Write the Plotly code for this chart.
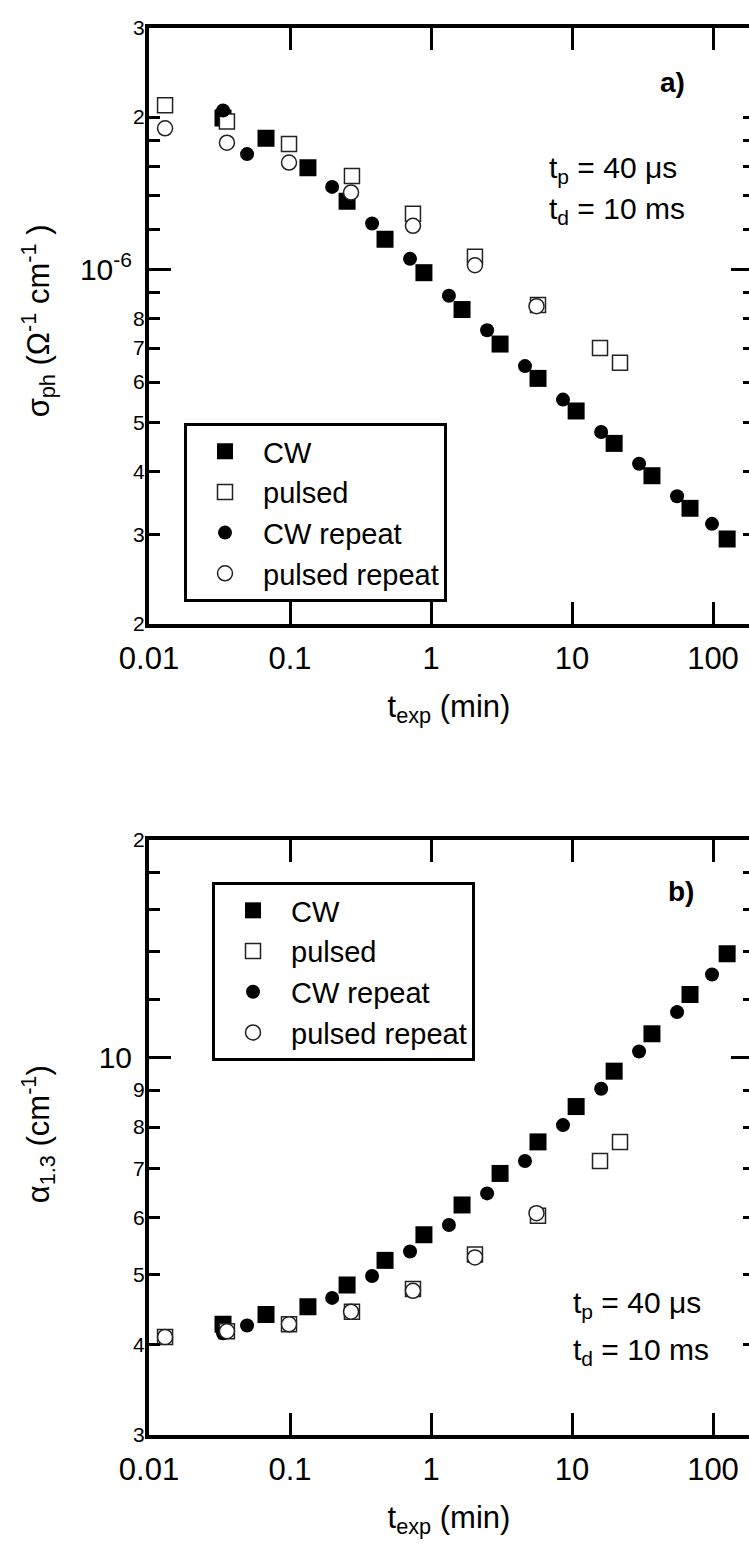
import math
import plotly.graph_objects as go

# ---------------- data ----------------
# exposure times (min)
t_cw = [0.0335, 0.0676, 0.134, 0.254, 0.472, 0.891, 1.66, 3.09, 5.74, 10.7, 19.9, 36.9, 68.7, 126]
t_cw_rep = [0.0335, 0.0496, 0.199, 0.382, 0.710, 1.34, 2.50, 4.64, 8.63, 16.1, 29.9, 55.6, 98.4]
t_pul = [0.0130, 0.0357, 0.0984, 0.275, 0.745, 2.05, 5.74, 15.8, 21.9]
t_pul_rep = [0.0130, 0.0357, 0.0984, 0.271, 0.745, 2.05, 5.6]

# panel a: photoconductivity sigma_ph (Ohm^-1 cm^-1)
sig_cw = [1.99e-6, 1.815e-6, 1.589e-6, 1.364e-6, 1.148e-6, 0.986e-6, 0.834e-6, 0.713e-6,
          0.610e-6, 0.526e-6, 0.454e-6, 0.392e-6, 0.338e-6, 0.294e-6]
sig_cw_rep = [2.06e-6, 1.69e-6, 1.456e-6, 1.233e-6, 1.05e-6, 0.888e-6, 0.759e-6, 0.645e-6,
              0.554e-6, 0.478e-6, 0.414e-6, 0.357e-6, 0.315e-6]
sig_pul = [2.11e-6, 1.96e-6, 1.77e-6, 1.53e-6, 1.288e-6, 1.06e-6, 0.851e-6, 0.700e-6, 0.655e-6]
sig_pul_rep = [1.90e-6, 1.78e-6, 1.626e-6, 1.42e-6, 1.22e-6, 1.02e-6, 0.847e-6]

# panel b: absorption alpha_1.3 (cm^-1)
alp_cw = [4.265, 4.40, 4.51, 4.836, 5.23, 5.675, 6.24, 6.90, 7.63, 8.54, 9.56, 10.77, 12.21, 13.90]
alp_cw_rep = [4.145, 4.25, 4.64, 4.975, 5.38, 5.855, 6.475, 7.18, 8.05, 9.04, 10.18, 11.54, 13.01]
alp_pul = [4.095, 4.172, 4.265, 4.44, 4.775, 5.33, 6.03, 7.18, 7.63]
alp_pul_rep = [4.095, 4.172, 4.265, 4.44, 4.746, 5.28, 6.08]

series_names = ["CW", "pulsed", "CW repeat", "pulsed repeat"]

# ticks
x_ticks = [0.01, 0.1, 1, 10, 100]
x_ticktext = ["0.01", "0.1", "1", "10", "100"]

ya_small_vals = [2e-7, 3e-7, 4e-7, 5e-7, 6e-7, 7e-7, 8e-7, 9e-7, 1e-6, 1.2e-6, 1.4e-6, 1.6e-6, 1.8e-6, 2e-6, 3e-6]
ya_small_text = ["2", "3", "4", "5", "6", "7", "8", "", "", "", "", "", "", "2", "3"]
ya_big_vals = [1e-6]
ya_big_text = ["10<sup>-6</sup>"]

yb_small_vals = [3, 4, 5, 6, 7, 8, 9, 10, 12, 14, 16, 18, 20]
yb_small_text = ["3", "4", "5", "6", "7", "8", "9", "", "", "", "", "", "2"]
yb_big_vals = [10]
yb_big_text = ["10"]

title_a = "σ<sub>ph</sub> (Ω<sup>-1</sup> cm<sup>-1</sup> )"
title_b = "α<sub>1.3</sub> (cm<sup>-1</sup>)"
title_x = "t<sub>exp</sub> (min)"

# ---------------- figure ----------------
FONT = "Liberation Sans, Arial, sans-serif"
W, H = 749, 1560
ML = 149
PX_PER_DECADE = 141
x_range = [-2, -2 + (W - ML) / PX_PER_DECADE]
dom_a = [(H - 621) / H, (H - 16) / H]
dom_b = [(H - 1444) / H, (H - 840) / H]

fig = go.Figure()

styles = [
    dict(symbol="square", size=17, color="black", line=dict(width=0)),
    dict(symbol="square", size=15, color="white", line=dict(width=1.5, color="#222")),
    dict(symbol="circle", size=14, color="black", line=dict(width=0)),
    dict(symbol="circle", size=15, color="white", line=dict(width=1.5, color="#222")),
]

panel_a = [(t_cw, sig_cw), (t_pul, sig_pul), (t_cw_rep, sig_cw_rep), (t_pul_rep, sig_pul_rep)]
panel_b = [(t_cw, alp_cw), (t_pul, alp_pul), (t_cw_rep, alp_cw_rep), (t_pul_rep, alp_pul_rep)]

for (xs, ys), name, st in zip(panel_a, series_names, styles):
    fig.add_trace(go.Scatter(x=xs, y=ys, mode="markers", name=name, marker=st,
                             xaxis="x", yaxis="y", legend="legend"))
for (xs, ys), name, st in zip(panel_b, series_names, styles):
    fig.add_trace(go.Scatter(x=xs, y=ys, mode="markers", name=name, marker=st,
                             xaxis="x2", yaxis="y2", legend="legend2"))

# empty helper traces so overlay axes are drawn
for ya, xa in [("y3", "x"), ("y4", "x"), ("y5", "x"), ("y6", "x2"), ("y7", "x2"), ("y8", "x2")]:
    fig.add_trace(go.Scatter(x=[], y=[], xaxis=xa, yaxis=ya, showlegend=False, hoverinfo="skip"))

tf_x = dict(family=FONT, size=31, color="black")
tf_big = dict(family=FONT, size=30, color="black")
tf_small = dict(family=FONT, size=21, color="black")
tf_title = dict(family=FONT, size=31, color="black")


def xaxis_cfg(anchor):
    return dict(type="log", range=x_range, domain=[0, 1], anchor=anchor,
                showline=True, linewidth=4, linecolor="black", mirror="ticks",
                ticks="inside", ticklen=22, tickwidth=3, tickcolor="black",
                tickmode="array", tickvals=x_ticks, ticktext=x_ticktext,
                tickfont=tf_x, showgrid=False, zeroline=False,
                ticklabelstandoff=4,
                title=dict(text=title_x, font=tf_title, standoff=21))


def ymain_cfg(rng, dom, anchor, vals, text):
    return dict(type="log", range=rng, domain=dom, anchor=anchor,
                showline=True, linewidth=4, linecolor="black", mirror=False,
                ticks="inside", ticklen=11, tickwidth=3, tickcolor="black",
                tickmode="array", tickvals=vals, ticktext=text,
                tickfont=tf_small, showgrid=False, zeroline=False,
                ticklabelstandoff=-4)


def ybig_cfg(rng, over, anchor, vals, text):
    return dict(type="log", range=rng, overlaying=over, anchor=anchor, side="left",
                showline=False, ticks="inside", ticklen=22, tickwidth=3, tickcolor="black",
                tickmode="array", tickvals=vals, ticktext=text,
                tickfont=tf_big, showgrid=False, zeroline=False,
                ticklabelstandoff=16)


def yright_cfg(rng, over, anchor, vals, length):
    return dict(type="log", range=rng, overlaying=over, anchor=anchor, side="right",
                showline=False, ticks="inside", ticklen=length, tickwidth=3, tickcolor="black",
                tickmode="array", tickvals=vals, showticklabels=False,
                showgrid=False, zeroline=False)


rng_a = [math.log10(2e-7), math.log10(3e-6)]
rng_b = [math.log10(3), math.log10(20)]


def ann(text, px, py, size=30, xanchor="left", angle=0):
    return dict(text=text, x=(px - ML) / (W - ML), y=(H - py) / H, xref="paper", yref="paper",
                xanchor=xanchor, yanchor="middle", showarrow=False, textangle=angle,
                font=dict(family=FONT, size=size, color="black"))


leg_common = dict(xanchor="left", yanchor="top", bordercolor="black", borderwidth=3,
                  bgcolor="white", font=dict(family=FONT, size=29, color="black"),
                  itemwidth=66, tracegroupgap=0)

fig.update_layout(
    width=W, height=H,
    margin=dict(l=ML, r=0, t=0, b=0),
    paper_bgcolor="white", plot_bgcolor="white",
    font=dict(family=FONT, color="black"),
    xaxis=xaxis_cfg("y"),
    xaxis2=xaxis_cfg("y2"),
    yaxis=ymain_cfg(rng_a, dom_a, "x", ya_small_vals, ya_small_text),
    yaxis3=ybig_cfg(rng_a, "y", "x", ya_big_vals, ya_big_text),
    yaxis4=yright_cfg(rng_a, "y", "x", ya_small_vals, 6),
    yaxis5=yright_cfg(rng_a, "y", "x", ya_big_vals, 18),
    yaxis2=ymain_cfg(rng_b, dom_b, "x2", yb_small_vals, yb_small_text),
    yaxis6=ybig_cfg(rng_b, "y2", "x2", yb_big_vals, yb_big_text),
    yaxis7=yright_cfg(rng_b, "y2", "x2", yb_small_vals, 6),
    yaxis8=yright_cfg(rng_b, "y2", "x2", yb_big_vals, 18),
    legend=dict(x=(184 - ML) / (W - ML), y=(H - 417) / H, **leg_common),
    legend2=dict(x=(212 - ML) / (W - ML), y=(H - 883) / H, **leg_common),
    showlegend=True,
    annotations=[
        ann(title_a, 38, 314, size=31, xanchor="center", angle=-90),
        ann(title_b, 38, 1139, size=31, xanchor="center", angle=-90),
        ann("<b>a)</b>", 672, 72, size=28, xanchor="center"),
        ann("t<sub>p</sub> = 40 μs", 547, 160),
        ann("t<sub>d</sub> = 10 ms", 547, 201),
        ann("<b>b)</b>", 681, 893, size=28, xanchor="center"),
        ann("t<sub>p</sub> = 40 μs", 571, 1312),
        ann("t<sub>d</sub> = 10 ms", 571, 1360),
    ],
)

fig.write_html("out.html")
